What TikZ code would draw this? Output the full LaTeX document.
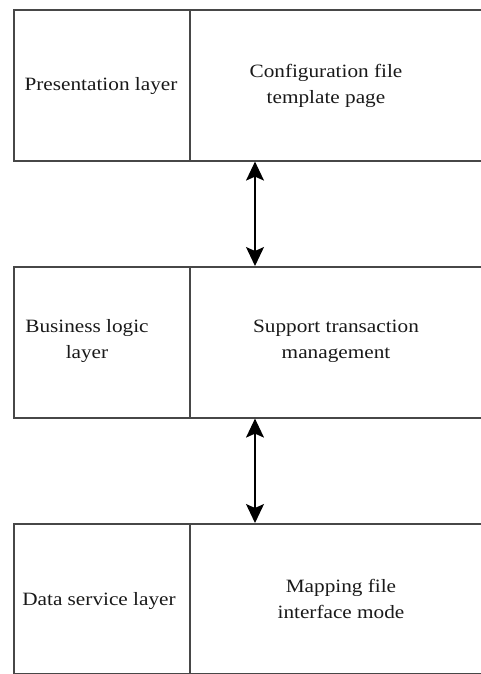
\documentclass[tikz,border=0pt]{standalone}
\usepackage{fontspec}
\setmainfont[FakeStretch=1.13]{Liberation Serif}
\usetikzlibrary{arrows.meta}
\begin{document}
\begin{tikzpicture}[x=1pt,y=-1pt,
  cell/.style={draw=black!72,line width=1.6pt,rectangle,inner sep=0pt,anchor=north west},
  leftcell/.style={cell,minimum width=176pt,minimum height=151pt},
  rightcell/.style={cell,minimum width=320pt,minimum height=151pt},
  lastrow/.style={minimum height=149.6pt},
  lbl/.style={font=\fontsize{18.8}{26}\selectfont,align=center,text=black!90},
  link/.style={{Stealth[length=19pt,width=18pt,inset=4pt]}-{Stealth[length=19pt,width=18pt,inset=4pt]},line width=1.2pt,black}]
\useasboundingbox (0,0) rectangle (481,674);
\clip (0,0) rectangle (481,674);
% three layers: left name cell + right content cell
\node[leftcell]  (pl)  at (13,9)   {};
\node[rightcell] (pr)  at (189,9)  {};
\node[leftcell]  (bl)  at (13,266) {};
\node[rightcell] (br)  at (189,266) {};
\node[leftcell,lastrow]  (dl)  at (13,523) {};
\node[rightcell,lastrow] (dr)  at (189,523) {};
% labels
\node[lbl] (plt) at (101,86)  {Presentation layer};
\node[lbl] (prt) at (326,86)  {Configuration file\\template page};
\node[lbl] (blt) at (87,341)  {Business logic\\layer};
\node[lbl] (brt) at (336,341) {Support transaction\\management};
\node[lbl] (dlt) at (99,601)  {Data service layer};
\node[lbl] (drt) at (341,599) {Mapping file\\interface mode};
% connectors between layers
\coordinate (ax) at (255,0);
\draw[link] (pr.south -| ax) -- (br.north -| ax);
\draw[link] (br.south -| ax) -- (dr.north -| ax);
\end{tikzpicture}
\end{document}
